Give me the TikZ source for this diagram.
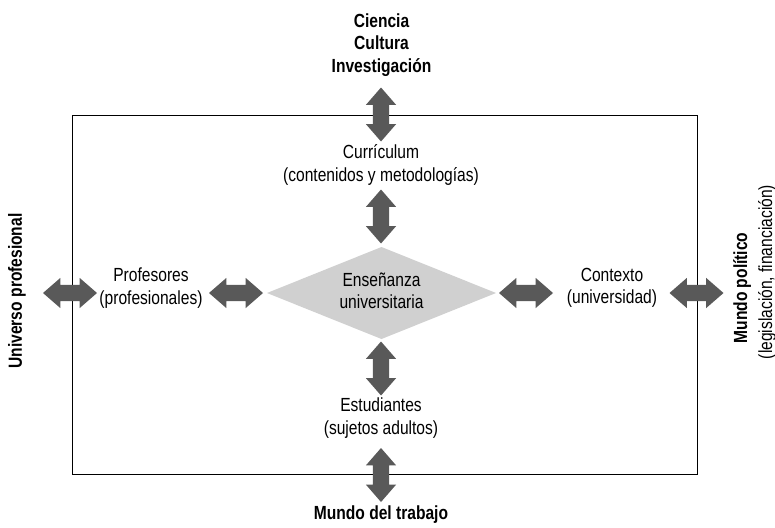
\documentclass[tikz,border=0pt]{standalone}
\usepackage{fontspec}
\setmainfont{Liberation Sans}[FakeStretch=0.82]
\usetikzlibrary{shapes.arrows}
\definecolor{arrowgray}{HTML}{595959}
\definecolor{diagray}{HTML}{D0D0D0}
\begin{document}
\begin{tikzpicture}[x=1pt,y=-1pt,
  fat/.style={shape=double arrow, fill=arrowgray, draw=none, inner sep=8pt,
    minimum height=54pt, double arrow head extend=7pt, double arrow tip angle=82},
  lbl/.style={font=\fontsize{19}{22.5}\selectfont, align=center, inner sep=0pt},
  blbl/.style={font=\fontsize{19}{22.5}\selectfont\bfseries, align=center, inner sep=0pt}]
\useasboundingbox (0,0) rectangle (775,527);
\node[draw=black, line width=1pt, minimum width=625pt, minimum height=359pt, inner sep=0pt] (frame) at (384.5,294.5) {};
\fill[diagray] (267,293) -- (381.5,247) -- (496,293) -- (381.5,339) -- cycle;
\node[lbl] (ens) at (381.5,291) {Enseñanza\\universitaria};
% arrows
\node[fat, rotate=90] (aTop) at (381,114.5) {};
\node[fat, rotate=90] (aCur) at (381,216.5) {};
\node[fat, rotate=90] (aEst) at (381,368.5) {};
\node[fat, rotate=90] (aBot) at (381,475) {};
\node[fat] (aL1) at (70,293) {};
\node[fat] (aL2) at (236,293) {};
\node[fat] (aR1) at (526,293) {};
\node[fat] (aR2) at (696.5,293) {};
% labels
\node[blbl] (cien) at (381.5,45) {Ciencia\\Cultura\\Investigación};
\node[lbl] (cur) at (381,165) {Currículum\\(contenidos y metodologías)};
\node[lbl] (est) at (381,418) {Estudiantes\\(sujetos adultos)};
\node[blbl] (tra) at (381,515) {Mundo del trabajo};
\node[lbl] (prof) at (151,288) {Profesores\\(profesionales)};
\node[lbl] (ctx) at (612,288) {Contexto\\(universidad)};
\node[blbl, rotate=90] (uni) at (17,291) {Universo profesional};
\node[blbl, rotate=90] (mun) at (742,288) {Mundo político};
\node[lbl, rotate=90] (leg) at (767,272) {(legislación, financiación)};
\end{tikzpicture}
\end{document}
